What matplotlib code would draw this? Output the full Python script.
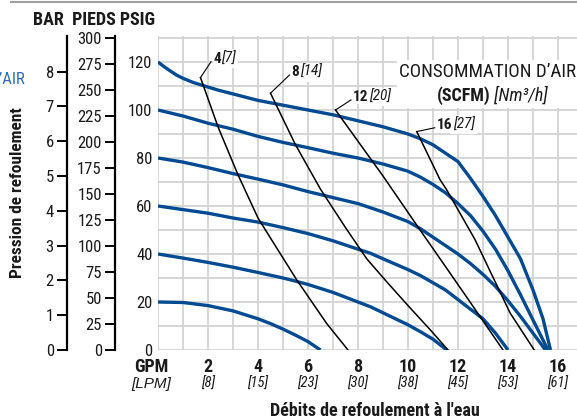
import matplotlib
matplotlib.use("Agg")
import matplotlib.pyplot as plt
from matplotlib import font_manager
from matplotlib.lines import Line2D
from matplotlib.patches import Rectangle


def pick_narrow_font():
    # the original uses a condensed sans; take whatever narrow face is installed
    fl = font_manager.fontManager.ttflist
    for name in ["Liberation Sans Narrow", "Roboto Condensed", "Open Sans Condensed",
                 "Noto Sans Condensed", "DejaVu Sans Condensed"]:
        if any(f.name == name for f in fl):
            return name, "normal"
    for name in ["Noto Sans", "Open Sans", "DejaVu Sans", "Roboto", "Inter"]:
        if any(f.name == name and f.stretch in ("condensed", "semi-condensed") for f in fl):
            return name, "condensed"
    return "Roboto", "normal"


FAMILY, STRETCH = pick_narrow_font()
plt.rcParams["font.family"] = [FAMILY, "DejaVu Sans"]
plt.rcParams["font.stretch"] = STRETCH

# Pump curves: discharge pressure (PSIG) vs flow (GPM), one per air inlet pressure
p120_gpm = [0, 0.25, 0.5, 0.75, 1, 1.4, 1.8, 2.4, 3, 4, 5, 6, 7, 8, 9, 10, 10.5, 11, 11.5, 12, 12.5, 13, 13.5, 14, 14.5, 15, 15.4, 15.7]
p120_psi = [120, 118, 116.2, 114.5, 113.2, 111.5, 110.2, 108.3, 106.7, 104, 102, 100, 98, 95.5, 93, 90, 88, 85.5, 82, 78.5, 71.5, 64, 56, 47, 38, 25, 13, 0]
p100_gpm = [0, 1, 2, 3, 4, 5, 6, 7, 8, 9, 10, 10.5, 11, 11.5, 12, 12.5, 13, 13.5, 14, 14.5, 15, 15.6]
p100_psi = [100, 97.5, 94.5, 92, 89, 86.5, 84.3, 82, 80, 77.5, 74.5, 72, 69, 65.5, 61, 56, 49.5, 42, 33, 23, 12.5, 0]
p80_gpm = [0, 1, 2, 3, 4, 5, 6, 7, 8, 9, 10, 10.5, 11, 11.5, 12, 12.5, 13, 13.5, 14, 14.5, 15, 15.5]
p80_psi = [80, 78.3, 76, 73.5, 71.2, 68.8, 66, 63.5, 61, 57.5, 53.5, 50.5, 47, 43.5, 40, 36, 31.5, 26.5, 20.5, 14, 7, 0]
p60_gpm = [0, 1, 2, 3, 4, 5, 6, 7, 8, 8.5, 9, 10, 10.5, 11, 11.5, 12, 12.5, 13, 13.5, 14]
p60_psi = [60, 58.5, 57, 55, 53.3, 51, 48.5, 45.5, 42, 40.3, 38, 33.5, 31, 28, 25, 21, 17, 13, 7, 0]
p40_gpm = [0, 1, 2, 3, 4, 5, 5.5, 6, 7, 8, 8.5, 9, 10, 10.5, 11, 11.55]
p40_psi = [40, 38.3, 36.5, 34.5, 32.3, 30, 28.7, 27.3, 24, 20, 18, 15.5, 10.5, 7.6, 4.5, 0]
p20_gpm = [0, 1, 2, 3, 4, 4.5, 5, 5.5, 6, 6.5]
p20_psi = [20, 19.8, 18.5, 16.3, 13, 11, 8.7, 6.2, 3.5, 0]

# Air consumption lines (SCFM)
s4_gpm = [1.7, 2.4, 3.2, 4.0, 4.55, 5.55, 6.75, 7.6]
s4_psi = [113.5, 93, 73, 55, 45.8, 29.2, 11, 0]
s8_gpm = [4.5, 5.5, 6.5, 7.5, 8.35, 9.1, 10, 10.9, 11.6]
s8_psi = [107, 85.5, 67, 51, 38, 29, 18.5, 8.3, 0]
s12_gpm = [7.1, 8.55, 9.0, 10.35, 10.75, 12.35, 13.8]
s12_psi = [100, 79, 72.5, 52, 46, 22, 0]
s16_gpm = [10.35, 11.28, 11.55, 12.68, 14.08, 15.05]
s16_psi = [91, 71, 66.7, 46, 15.5, 0]

scfm_names = ["4", "8", "12", "16"]
nm3h_names = ["[7]", "[14]", "[20]", "[27]"]
# where each consumption label sits (GPM, PSIG)
label_x = [2.2, 5.34, 7.8, 11.15]
label_y = [121.3, 115.8, 105.4, 93.8]

gpm_ticks = [2, 4, 6, 8, 10, 12, 14, 16]
lpm_ticks = ["[8]", "[15]", "[23]", "[30]", "[38]", "[45]", "[53]", "[61]"]
psi_ticks = [0, 20, 40, 60, 80, 100, 120]
feet_ticks = list(range(0, 301, 25))
bar_ticks = list(range(0, 9))

BLUE = "#004a91"
GRID = "#d3d3d3"
TXT = "#1a1a1a"

W, H = 577, 419
fig = plt.figure(figsize=(W / 100, H / 100), dpi=100)
ax = fig.add_axes([158 / W, (H - 350) / H, (W - 158) / W, (350 - 36) / H])
ax.set_xlim(0, (577 - 158) / 25)
ax.set_ylim(0, (350 - 36) / 2.4)

for s in ax.spines.values():
    s.set_visible(False)
ax.set_axisbelow(True)
ax.set_xticks(range(0, 17))
ax.set_xticklabels([])
ax.set_yticks(psi_ticks)
ax.set_yticks(range(10, 131, 20), minor=True)
ax.tick_params(which="both", length=0)
ax.tick_params(axis="y", labelsize=12, pad=4, labelcolor=TXT)
ax.grid(which="both", color=GRID, linewidth=1.3)

# white panel behind the legend text
ax.add_patch(Rectangle((9.56, 100.8), 8, 20, facecolor="white", edgecolor="none", zorder=1))

for gx, gy in [(p120_gpm, p120_psi), (p100_gpm, p100_psi), (p80_gpm, p80_psi),
               (p60_gpm, p60_psi), (p40_gpm, p40_psi), (p20_gpm, p20_psi)]:
    ax.plot(gx, gy, color=BLUE, linewidth=2.4, solid_capstyle="butt", zorder=3)

for gx, gy in [(s4_gpm, s4_psi), (s8_gpm, s8_psi), (s12_gpm, s12_psi), (s16_gpm, s16_psi)]:
    ax.plot(gx, gy, color="black", linewidth=1.1, zorder=4)

# consumption labels with leader lines
white = dict(facecolor="white", edgecolor="none")
line_starts = [(s4_gpm[0], s4_psi[0]), (s8_gpm[0], s8_psi[0]), (s12_gpm[0], s12_psi[0]), (s16_gpm[0], s16_psi[0])]
for (sx, sy), lx, ly, a, b in zip(line_starts, label_x, label_y, scfm_names, nm3h_names):
    ax.plot([sx, lx - 0.08], [sy, ly - 1.2], color="black", linewidth=0.8, zorder=4)
    t1 = ax.text(lx, ly, a, fontsize=11, fontweight="bold", va="center", ha="left",
                 color=TXT, zorder=5.2, bbox=dict(white, pad=0.2))
    ax.annotate(b, xy=(1, 0), xycoords=t1, xytext=(0.3, 0), textcoords="offset points",
                va="bottom", ha="left", fontsize=11, style="italic", color=TXT, zorder=5.1,
                bbox=dict(white, pad=1.8))

ax.text(13.2, 116.0, "CONSOMMATION D\u2019AIR", fontsize=13.7, ha="center", va="center",
        color=TXT, zorder=5)
t = ax.text(11.15, 106.0, "(SCFM)", fontsize=13, fontweight="bold", ha="left",
            va="center", color=TXT, zorder=5)
ax.annotate(" [Nm\u00b3/h]", xy=(1, 0), xycoords=t, va="bottom", ha="left", fontsize=13,
            style="italic", color=TXT, zorder=5)

# x tick labels: GPM and LPM rows
for g, l in zip(gpm_ticks, lpm_ticks):
    ax.annotate(str(g), xy=(g, 0), xycoords=("data", "axes fraction"), xytext=(0, -12),
                textcoords="offset points", ha="center", va="center", fontsize=13,
                fontweight="bold", color=TXT, annotation_clip=False)
    ax.annotate(l, xy=(g, 0), xycoords=("data", "axes fraction"), xytext=(0, -24.5),
                textcoords="offset points", ha="center", va="center", fontsize=10.5,
                style="italic", color=TXT, annotation_clip=False)
ax.annotate("GPM", xy=(-0.28, 0), xycoords=("data", "axes fraction"), xytext=(0, -12),
            textcoords="offset points", ha="center", va="center", fontsize=13,
            fontweight="bold", color=TXT, annotation_clip=False)
ax.annotate("[LPM]", xy=(-0.28, 0), xycoords=("data", "axes fraction"), xytext=(0, -24.5),
            textcoords="offset points", ha="center", va="center", fontsize=11,
            style="italic", family=["Liberation Sans", "DejaVu Sans"], stretch="normal",
            color=TXT, annotation_clip=False)

# secondary pressure scales: feet of water and bar
feet = ax.secondary_yaxis(-(158 - 115) / (W - 158), functions=(lambda p: p * 2.31, lambda f: f / 2.31))
bar = ax.secondary_yaxis(-(158 - 67) / (W - 158), functions=(lambda p: p / 14.5038, lambda b: b * 14.5038))
feet.set_yticks(feet_ticks)
bar.set_yticks(bar_ticks)
for sec in (feet, bar):
    sec.spines["left"].set_linewidth(1.6)
    sec.tick_params(length=7.5, width=1.4, labelsize=12, pad=2, labelcolor=TXT)

fig.text(33 / W, 1 - 20 / H, "BAR  PIEDS PSIG", fontsize=13, fontweight="bold",
         ha="left", va="center", color=TXT)
fig.text(18 / W, 1 - 193 / H, "Pression de refoulement", rotation=90, fontsize=12.5,
         fontweight="bold", ha="center", va="center", color=TXT)
fig.text(25 / W, 1 - 80 / H, "PRESSION D\u2019AIR", fontsize=12, ha="right", va="center",
         color="#2f6cb3")
fig.text(375 / W, 1 - 411 / H, "D\u00e9bits de refoulement \u00e0 l'eau", fontsize=13,
         fontweight="bold", ha="center", va="center", color=TXT)

fig.add_artist(Line2D([11 / W, 1], [1 - 2 / H, 1 - 2 / H], color="#a0a0a0", linewidth=1.5))

fig.savefig("out.png", dpi=100)
